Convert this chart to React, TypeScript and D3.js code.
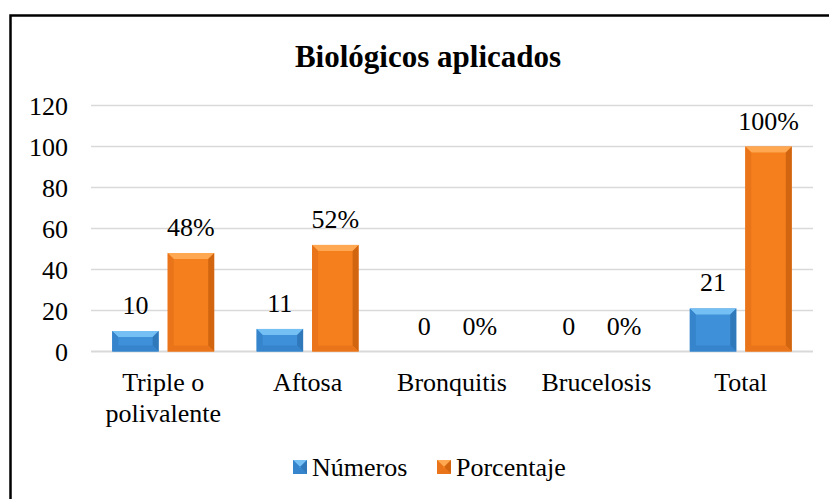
import React, { useEffect, useRef } from "react";
import * as d3 from "d3";

const categories = ["Triple o polivalente", "Aftosa", "Bronquitis", "Brucelosis", "Total"];
const numeros = [10, 11, 0, 0, 21];
const porcentaje = [48, 52, 0, 0, 100];
const yTicks = [0, 20, 40, 60, 80, 100, 120];
const seriesNames = ["Números", "Porcentaje"];

const W = 829;
const H = 499;
const FONT = "Times New Roman, Liberation Serif, Tinos, serif";

const palette = [
  { base: "#3e90d8", light: "#74c0f4", side: "#3584cc", dark: "#2a6eae" },
  { base: "#f57f1c", light: "#ffa851", side: "#e9741a", dark: "#c25a0c" },
];

const wrap = (s: string, max: number) => {
  const lines: string[] = [];
  let cur = "";
  s.split(" ").forEach((w) => {
    const next = cur ? cur + " " + w : w;
    if (next.length > max && cur) {
      lines.push(cur);
      cur = w;
    } else cur = next;
  });
  if (cur) lines.push(cur);
  return lines;
};

const App: React.FC = () => {
  const svgRef = useRef<SVGSVGElement | null>(null);

  useEffect(() => {
    const svg = d3.select(svgRef.current);
    svg.selectAll("*").remove();

    svg.append("rect").attr("width", W).attr("height", H).attr("fill", "#fff");

    // frame (left + top edges visible)
    svg
      .append("path")
      .attr("d", `M10.5,${H} V15.5 H${W}`)
      .attr("fill", "none")
      .attr("stroke", "#000")
      .attr("stroke-width", 2.5);

    const x0 = d3.scaleBand().domain(categories).range([91, 813]);
    const y = d3.scaleLinear().domain([0, 120]).range([351.5, 105.5]);
    const bw = 46.5;
    const gap = 9;

    // gridlines
    svg
      .append("g")
      .selectAll("line")
      .data(yTicks)
      .join("line")
      .attr("x1", 91)
      .attr("x2", 813)
      .attr("y1", (d) => y(d))
      .attr("y2", (d) => y(d))
      .attr("stroke", "#d9d9d9")
      .attr("stroke-width", (d) => (d === 0 ? 2 : 1.3));

    // y tick labels
    svg
      .append("g")
      .selectAll("text")
      .data(yTicks)
      .join("text")
      .attr("x", 68)
      .attr("y", (d) => y(d) + 9)
      .attr("text-anchor", "end")
      .attr("font-family", FONT)
      .attr("font-size", 26)
      .attr("fill", "#000")
      .text((d) => d);

    // title
    svg
      .append("text")
      .attr("x", 428)
      .attr("y", 66.5)
      .attr("text-anchor", "middle")
      .attr("font-family", FONT)
      .attr("font-size", 31)
      .attr("font-weight", "bold")
      .text("Biológicos aplicados");

    const drawBar = (g: any, x: number, top: number, w: number, bottom: number, c: any) => {
      const h = bottom - top;
      if (h <= 0.5) return;
      const b = Math.min(6, h / 2);
      const xr = x + w;
      g.append("rect").attr("x", x).attr("y", top).attr("width", w).attr("height", h).attr("fill", c.base);
      g.append("polygon")
        .attr("points", `${x},${top} ${xr},${top} ${xr - b},${top + b} ${x + b},${top + b}`)
        .attr("fill", c.light);
      g.append("polygon")
        .attr("points", `${x},${top} ${x + b},${top + b} ${x + b},${bottom - b} ${x},${bottom}`)
        .attr("fill", c.side);
      g.append("polygon")
        .attr("points", `${xr},${top} ${xr - b},${top + b} ${xr - b},${bottom - b} ${xr},${bottom}`)
        .attr("fill", c.dark)
        .attr("opacity", 0.7);
      g.append("polygon")
        .attr("points", `${x},${bottom} ${x + b},${bottom - b} ${xr - b},${bottom - b} ${xr},${bottom}`)
        .attr("fill", c.side);
    };

    const series = [numeros, porcentaje];
    const bars = svg.append("g");
    const labels = svg.append("g");
    categories.forEach((cat, i) => {
      const cx = (x0(cat) as number) + x0.bandwidth() / 2;
      series.forEach((vals, s) => {
        const bx = s === 0 ? cx - gap / 2 - bw : cx + gap / 2;
        const v = vals[i];
        drawBar(bars, bx, y(v), bw, y(0), palette[s]);
        labels
          .append("text")
          .attr("x", bx + bw / 2)
          .attr("y", y(v) - 17)
          .attr("text-anchor", "middle")
          .attr("font-family", FONT)
          .attr("font-size", 26)
          .text(s === 1 ? `${v}%` : `${v}`);
      });
    });

    // category labels
    const cl = svg.append("g");
    categories.forEach((cat) => {
      const cx = (x0(cat) as number) + x0.bandwidth() / 2;
      wrap(cat, 12).forEach((line, k) => {
        cl.append("text")
          .attr("x", cx)
          .attr("y", 391 + k * 30.5)
          .attr("text-anchor", "middle")
          .attr("font-family", FONT)
          .attr("font-size", 26)
          .text(line);
      });
    });

    // legend
    const legendX = [293, 437];
    const lg = svg.append("g");
    seriesNames.forEach((name, s) => {
      const lx = legendX[s];
      const g = lg.append("g");
      drawBar(g, lx, 460, 14, 474, palette[s]);
      g.append("text")
        .attr("x", lx + 19)
        .attr("y", 476)
        .attr("font-family", FONT)
        .attr("font-size", 26)
        .text(name);
    });
  }, []);

  return (
    <div style={{ position: "absolute", left: 0, top: 0 }}>
      <svg ref={svgRef} width={W} height={H} style={{ display: "block" }} />
    </div>
  );
};

export default App;
